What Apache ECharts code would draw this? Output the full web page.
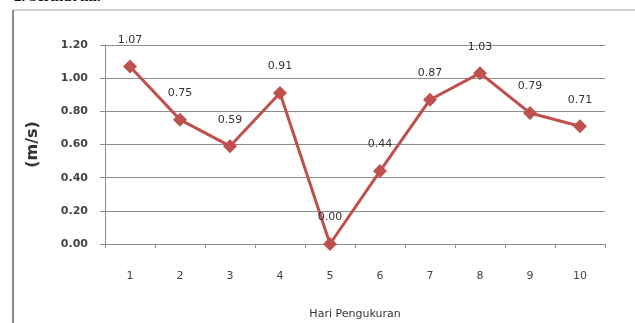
<!DOCTYPE html>
<html>
<head>
<meta charset="utf-8">
<script src="https://cdn.jsdelivr.net/npm/echarts@6/dist/echarts.min.js"></script>
<style>
  html, body { margin: 0; padding: 0; background: #fff; }
  #chart { width: 635px; height: 323px; }
</style>
</head>
<body>
<div id="chart"></div>
<script>
// Daily measured speed (m/s)
const days = ['1', '2', '3', '4', '5', '6', '7', '8', '9', '10'];
const speeds = [1.07, 0.75, 0.59, 0.91, 0.00, 0.44, 0.87, 1.03, 0.79, 0.71];
const yMin = 0, yMax = 1.2, yStep = 0.2;

const chart = echarts.init(document.getElementById('chart'), null, { renderer: 'canvas' });
const font = 'DejaVu Sans';

chart.setOption({
  animation: false,
  backgroundColor: '#fff',
  grid: { left: 105, right: 30, top: 45, bottom: 79, containLabel: false, outerBoundsMode: 'none' },
  graphic: [
    { type: 'line', shape: { x1: 13, y1: 10, x2: 635, y2: 10 }, style: { stroke: '#cfcfcf', lineWidth: 2 } },
    { type: 'line', shape: { x1: 13, y1: 10, x2: 13, y2: 323 }, style: { stroke: '#8a8a8a', lineWidth: 2 } },
    { type: 'text', left: 14, top: -10, style: { text: '2. berikut ini.', font: 'bold 15px "Liberation Serif"', fill: '#111' } }
  ],
  xAxis: {
    type: 'category',
    data: days,
    boundaryGap: true,
    name: 'Hari Pengukuran',
    nameLocation: 'middle',
    nameGap: 65,
    nameTextStyle: { fontFamily: font, fontSize: 11, color: '#333' },
    axisLine: { lineStyle: { color: '#8c8c8c', width: 1 } },
    axisTick: { show: true, length: 4, lineStyle: { color: '#8c8c8c' } },
    axisLabel: { margin: 27, fontFamily: font, fontSize: 11, color: '#444' },
    splitLine: { show: false }
  },
  yAxis: {
    type: 'value',
    min: yMin, max: yMax, interval: yStep,
    name: '(m/s)',
    nameLocation: 'middle',
    nameGap: 64,
    nameRotate: 90,
    nameTextStyle: { fontFamily: font, fontSize: 16, color: '#333', fontWeight: 'bold' },
    axisLine: { show: true, lineStyle: { color: '#8c8c8c', width: 1 } },
    axisTick: { show: true, length: 5, lineStyle: { color: '#8c8c8c' } },
    axisLabel: { margin: 17, fontFamily: font, fontSize: 11, color: '#444', fontWeight: 'bold',
                 formatter: v => v.toFixed(2) },
    splitLine: { show: true, lineStyle: { color: '#8c8c8c', width: 1 } }
  },
  series: [{
    type: 'line',
    data: speeds,
    symbol: 'diamond',
    symbolSize: 14,
    lineStyle: { color: '#c0504d', width: 3 },
    itemStyle: { color: '#c0504d' },
    label: {
      show: true, position: 'top', distance: 14,
      fontFamily: font, fontSize: 11, color: '#333',
      formatter: p => p.value.toFixed(2)
    },
    z: 5
  }]
});
</script>
</body>
</html>
